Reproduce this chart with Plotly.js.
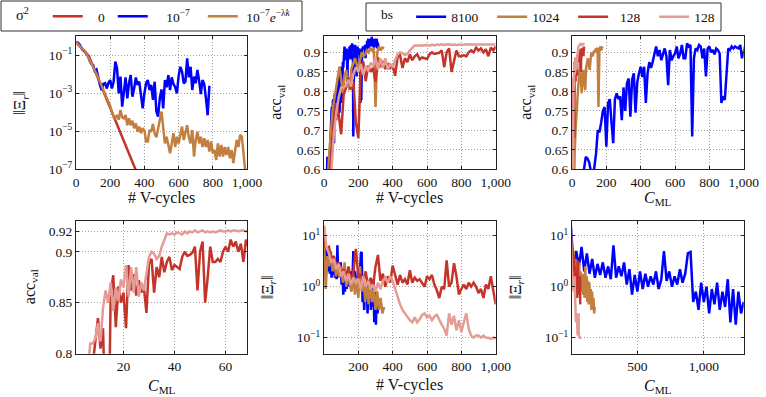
<!DOCTYPE html>
<html>
<head>
<meta charset="utf-8">
<script src="https://cdn.plot.ly/plotly-3.0.1.min.js"></script>
<style>html,body{margin:0;padding:0;background:#fff}</style>
</head>
<body>
<div id="chart" style="width:766px;height:397px"></div>
<script>
// ---- panel 1: residual norm vs V-cycles, three noise levels ----
// red sampled every 25 V-cycles, blue/brown every 10
const sigmaZeroErr = [0.5, 0.29, 0.18, 0.092, 0.027, 0.0076, 0.0021, 5.9e-4, 1.7e-4, 4.8e-5, 1.3e-5, 3.8e-6, 1.1e-6, 3.2e-7, 8.9e-8];
const sigmaConstErr = [
  0.5, 0.47, 0.38, 0.26, 0.19, 0.17, 0.13, 0.092, 0.052, 0.035,
  0.03, 0.015, 0.018, 0.0055, 0.0028, 0.0015, 0.0031, 0.0034, 0.0018, 0.0036,
  0.005, 0.0018, 0.0041, 0.047, 0.021, 0.001, 0.0076, 0.0002, 0.0018, 0.0069,
  0.00055, 0.0034, 0.0091, 0.00066, 0.0018, 0.0069, 0.0028, 0.0041, 0.00081, 0.00016,
  0.001, 0.0034, 0.005, 0.0015, 0.0028, 0.00045, 0.0041, 0.00011, 0.00006, 0.00055,
  0.0016, 0.00016, 0.005, 0.0021, 0.0091, 0.0015, 0.0069, 0.0031, 0.0021, 0.001,
  0.0081, 0.025, 0.014, 0.0034, 0.0041, 0.07, 0.0069, 0.025, 0.0015, 0.0076,
  0.0034, 0.017, 0.0047, 0.00092, 0.005, 0.0031, 0.00055, 0.00007, 0.0025];
const sigmaDecayErr = [
  0.52, 0.43, 0.34, 0.26, 0.21, 0.18, 0.13, 0.092, 0.057, 0.038,
  0.026, 0.016, 0.0104, 0.0065, 0.0041, 0.0026, 0.0016, 0.001, 0.00062, 0.00036,
  2.2e-4, 1.05e-4, 5.9e-5, 5.0e-5, 7.2e-5, 4.0e-5, 1.32e-4, 5.5e-5, 4.8e-5, 7.2e-5,
  2.1e-5, 4.8e-5, 2.1e-5, 3.6e-5, 1.45e-5, 2.6e-5, 9.5e-6, 1.78e-5, 7.9e-6, 1.45e-5,
  1.1e-5, 2.9e-6, 2.9e-6, 1.17e-5, 9.5e-6, 2.45e-5, 7.9e-6, 4.8e-6, 1.17e-5, 4.0e-5,
  1.1e-4, 9.5e-6, 2.3e-6, 5.2e-6, 1.5e-6, 7.0e-7, 2.3e-6, 7.9e-6, 1.5e-6, 5.2e-6,
  2.3e-6, 7.9e-6, 1.78e-5, 3.5e-6, 9.5e-6, 2.1e-5, 4.8e-6, 2.3e-6, 1.17e-5, 4.7e-7,
  3.5e-6, 9.5e-6, 2.3e-6, 5.2e-6, 1.5e-6, 4.3e-6, 1.5e-6, 3.5e-6, 8.5e-7, 2.9e-6,
  7.0e-7, 1.05e-6, 3.1e-7, 2.3e-6, 4.7e-7, 1.9e-6, 4.7e-7, 1.5e-6, 5.6e-7, 1.5e-6,
  3.8e-7, 1.05e-6, 2.1e-7, 8.5e-7, 3.5e-6, 1.5e-6, 6.5e-6, 5.2e-6, 3.1e-7, 7.6e-8];

// ---- batch size runs ----
// bs 8100: accuracy every 10 C_ML, residual every 20 C_ML
const cost8100 = 4.1; // C_ML per V-cycle
const acc8100 = [
  0.3, 0.35, 0.4, 0.45, 0.5, 0.54, 0.57, 0.6, 0.632, 0.628,
  0.618, 0.595, 0.58, 0.605, 0.64, 0.70, 0.695, 0.72, 0.75, 0.76,
  0.658, 0.77, 0.78, 0.72, 0.667, 0.78, 0.795, 0.78, 0.787, 0.726,
  0.81, 0.75, 0.82, 0.833, 0.735, 0.83, 0.846, 0.745, 0.823, 0.846,
  0.863, 0.837, 0.863, 0.77, 0.846, 0.875, 0.86, 0.876, 0.897, 0.915,
  0.89, 0.906, 0.88, 0.897, 0.91, 0.89, 0.816, 0.906, 0.88, 0.89,
  0.897, 0.915, 0.885, 0.897, 0.919, 0.885, 0.885, 0.923, 0.915, 0.919,
  0.684, 0.885, 0.91, 0.906, 0.919, 0.915, 0.885, 0.91, 0.838, 0.91,
  0.915, 0.9, 0.906, 0.895, 0.91, 0.906, 0.897, 0.77, 0.787, 0.778,
  0.86, 0.91, 0.906, 0.915, 0.91, 0.915, 0.912, 0.91, 0.919, 0.885,
  0.9,
  0.92, 0.905, 0.93, 0.915, 0.925, 0.935, 0.91, 0.93, 0.92, 0.935,
  0.915, 0.93, 0.92, 0.94, 0.915, 0.93, 0.925, 0.935, 0.91, 0.93,
  0.92, 0.935, 0.915, 0.93, 0.92, 0.935, 0.91, 0.925, 0.92, 0.915];
const err8100 = [
  15, 2.5, 5, 2.5, 6, 2, 4.5, 1.8, 3.5, 1.5,
  2.8, 1.7, 3, 1.5, 2.5, 1.4, 6.5, 1.5, 2.5, 1.6,
  3, 1.1, 2.2, 0.7, 1.7, 0.8, 2, 0.9, 1.8, 1.0,
  1.6, 1.1, 2, 0.9, 1.4, 5, 1.3, 2, 1.0, 1.6,
  1.1, 2.2, 1.2, 1.8, 4.5, 4.8, 0.5, 0.8, 0.35, 1.2,
  0.5, 1.0, 0.3, 0.9, 0.45, 1.2, 0.35, 0.8, 0.4, 1.4,
  0.2, 0.9, 0.18, 0.8, 0.3, 0.5];

// bs 1024: one sample every 10 V-cycles
const cost1024 = 0.514;
const acc1024 = [
  0.3, 0.45, 0.56, 0.64, 0.7, 0.75, 0.78, 0.81, 0.84, 0.863,
  0.83, 0.795, 0.84, 0.855, 0.82, 0.803, 0.86, 0.87, 0.885, 0.87,
  0.855, 0.88, 0.9, 0.89, 0.895, 0.905, 0.9, 0.91, 0.905, 0.912,
  0.76, 0.9, 0.915, 0.905, 0.912, 0.91];
const err1024 = [
  8, 0.9, 4, 2.5, 5, 2, 3.5, 1.6, 3, 1.5,
  2.5, 1.2, 3, 1.0, 2, 1.1, 0.8, 1.8, 0.7, 1.5,
  0.6, 2.5, 0.8, 1.6, 0.5, 1.3, 0.45, 1.2, 0.5, 0.9,
  0.35, 0.8, 0.35, 0.6, 0.3, 0.4];

// bs 128 (two runs): one sample per unit of C_ML
const cost128 = 0.07;
const accA128 = [
  0.3, 0.45, 0.56, 0.63, 0.72, 0.77, 0.74, 0.69, 0.79, 0.81,
  0.835, 0.805, 0.825, 0.72, 0.68, 0.86, 0.877, 0.826, 0.866, 0.85,
  0.86, 0.825, 0.887, 0.862, 0.878, 0.857, 0.872, 0.86, 0.865, 0.84,
  0.888, 0.893, 0.86, 0.885, 0.875, 0.895, 0.88, 0.89, 0.895, 0.882,
  0.887, 0.885, 0.883, 0.895, 0.9, 0.896, 0.897, 0.899, 0.905, 0.862,
  0.9, 0.91, 0.85, 0.875, 0.905, 0.89, 0.89, 0.893, 0.89, 0.9,
  0.905, 0.9, 0.912, 0.905, 0.91, 0.9, 0.908, 0.89, 0.912, 0.905,
  0.915];
const accB128 = [
  0.3, 0.4, 0.5, 0.6, 0.69, 0.745, 0.785, 0.81, 0.81, 0.815,
  0.83, 0.812, 0.845, 0.862, 0.85, 0.87, 0.842, 0.865, 0.852, 0.873,
  0.865, 0.887, 0.856, 0.885, 0.86, 0.885, 0.856, 0.87, 0.862, 0.88,
  0.895, 0.9, 0.898, 0.893, 0.896, 0.905, 0.912, 0.918, 0.917, 0.918,
  0.917, 0.919, 0.918, 0.917, 0.92, 0.918, 0.92, 0.919, 0.921, 0.919,
  0.92, 0.921, 0.919, 0.92, 0.919, 0.92, 0.919, 0.92, 0.921, 0.92,
  0.92, 0.921, 0.92, 0.921, 0.921, 0.92, 0.921, 0.921, 0.92, 0.921,
  0.92];
const errA128 = [
  9, 5.5, 6, 3.5, 4, 2.5, 3, 1.8, 2.2, 1.5,
  2.5, 1.2, 2, 5.5, 1.5, 1.8, 1.2, 2, 1, 1.5,
  1, 2.5, 4.2, 1.3, 1.8, 1, 1.6, 1.2, 2.6, 1.6,
  1.1, 1.7, 1.2, 1.4, 1.1, 2.1, 1.2, 1.5, 1.3, 1.4,
  1.2, 1.0, 1.6, 1.4, 1.7, 1.1, 0.85, 0.6, 1.0, 0.9,
  3.3, 1.0, 1.2, 2.9, 1.6, 0.7, 0.9, 1.1, 0.9, 1.2,
  1.0, 1.2, 1.0, 0.75, 0.9, 0.6, 1.1, 0.9, 1.6, 0.8,
  0.45];
const errB128 = [
  16, 6, 4.5, 3, 3.5, 2.2, 2.8, 1.6, 2.0, 1.3,
  1.8, 1.1, 1.5, 1.2, 1.4, 0.9, 1.6, 1.0, 1.3, 0.9,
  1.1, 0.8, 1.2, 0.9, 1.3, 1.5, 1.2, 1.6, 1.3, 0.9,
  0.6, 0.45, 0.35, 0.3, 0.25, 0.22, 0.2, 0.25, 0.2, 0.23,
  0.28, 0.3, 0.25, 0.27, 0.22, 0.26, 0.28, 0.22, 0.18, 0.15,
  0.11, 0.3, 0.18, 0.27, 0.14, 0.22, 0.13, 0.2, 0.3, 0.15,
  0.11, 0.1, 0.11, 0.11, 0.1, 0.11, 0.1, 0.1, 0.095, 0.1,
  0.095];

const RED = '#c4342a', BLUE = '#0000ff', BROWN = '#c27f40', PINK = '#e49c94';
const FONT = '"Liberation Serif", "DejaVu Serif", serif';
const NB = '\u00a0';
const pad = (n) => NB.repeat(n);

const grid = (arr, step) => arr.map((_, i) => i * step);

const cml8100 = grid(acc8100, 10), cyc8100 = cml8100.map(c => c / cost8100);
const cmlE8100 = grid(err8100, 20), cycE8100 = cmlE8100.map(c => c / cost8100);
const cyc1024 = grid(acc1024, 10), cml1024 = cyc1024.map(v => v * cost1024);
const cml128 = grid(accA128, 1), cyc128 = cml128.map(c => c / cost128);

function line(x, y, color, n, extra) {
  return Object.assign({
    x, y, type: 'scatter', mode: 'lines',
    xaxis: 'x' + n, yaxis: 'y' + n,
    line: {color, width: 2.5},
    showlegend: false, hoverinfo: 'skip'
  }, extra || {});
}

const data = [
  line(grid(sigmaZeroErr, 25), sigmaZeroErr, RED, '', {name: pad(3) + '0', showlegend: true, legendwidth: 20}),
  line(grid(sigmaConstErr, 10), sigmaConstErr, BLUE, '', {name: pad(4) + '10<sup>−7</sup>', showlegend: true, legendwidth: 45}),
  line(grid(sigmaDecayErr, 10), sigmaDecayErr, BROWN, '', {name: pad(1) + '10<sup>−7</sup><i>e</i><sup>−λ<i>k</i></sup>', showlegend: true}),

  line(cyc8100, acc8100, BLUE, 2, {name: '8100', showlegend: true, legend: 'legend2'}),
  line(cyc1024, acc1024, BROWN, 2, {name: '1024', showlegend: true, legend: 'legend2'}),
  line(cyc128, accA128, RED, 2, {name: pad(2) + '128', showlegend: true, legend: 'legend2'}),
  line(cyc128, accB128, PINK, 2, {name: '128', showlegend: true, legend: 'legend2'}),

  line(cml8100, acc8100, BLUE, 3),
  line(cml1024, acc1024, BROWN, 3),
  line(cml128, accA128, RED, 3),
  line(cml128, accB128, PINK, 3),

  line(cml128, accA128, RED, 4),
  line(cml128, accB128, PINK, 4),

  line(cycE8100, err8100, BLUE, 5),
  line(cyc1024, err1024, BROWN, 5),
  line(cyc128, errA128, RED, 5),
  line(cyc128, errB128, PINK, 5),

  line(cmlE8100, err8100, BLUE, 6),
  line(cml1024, err1024, BROWN, 6),
  line(cml128, errA128, RED, 6),
  line(cml128, errB128, PINK, 6),
];

const W = 766, H = 397;
const px = (x) => x / W, py = (y) => 1 - y / H;
const colPx = [[76, 247], [324, 495.7], [572, 743.7]];
const rowPx = [[36, 169.3], [220.7, 353.7]];
const colX = colPx.map(([a, b]) => [px(a), px(b)]);
const rowY = rowPx.map(([t, b]) => [py(b), py(t)]);

const tickFont = {family: FONT, size: 13.5, color: '#111'};
const titleFont = {family: FONT, size: 16, color: '#111'};
const base = {
  showline: true, mirror: 'ticks', linecolor: '#222', linewidth: 1,
  ticks: 'inside', ticklen: 3, tickcolor: '#222',
  showgrid: true, gridcolor: '#a0a0a0', griddash: '1px,2px', gridwidth: 1,
  zeroline: false, tickfont: tickFont, fixedrange: true
};
const ax = (o) => Object.assign({}, base, o);
const sup = (e) => '10<sup>' + e + '</sup>';
const cyclesTicks = {tickvals: [0, 200, 400, 600, 800, 1000], ticktext: ['0', '200', '400', '600', '800', '1,000']};
const accTicks = {tickvals: [0.6, 0.65, 0.7, 0.75, 0.8, 0.85, 0.9], ticktext: ['0.6', '0.65', '0.7', '0.75', '0.8', '0.85', '0.9']};
const errTicks = {type: 'log', range: [-1.314, 1.294], tickvals: [0.1, 1, 10], ticktext: [sup('−1'), sup('0'), sup('1')]};
const cmlTitle = '<i>C</i><sub>ML</sub>';
const errTitle = '‖Ξ<sub><i>r</i></sub>‖';
const accTitle = 'acc<sub>val</sub>';

// axis titles placed as annotations (pixel positions of the reference)
const xTitle = (text, col, y) => ({text, xref: 'paper', yref: 'paper', x: px((colPx[col][0] + colPx[col][1]) / 2), y: py(y),
  xanchor: 'center', yanchor: 'middle', showarrow: false, font: titleFont});
const yTitle = (text, x, row) => ({text, xref: 'paper', yref: 'paper', x: px(x), y: py((rowPx[row][0] + rowPx[row][1]) / 2),
  xanchor: 'center', yanchor: 'middle', textangle: -90, showarrow: false, font: titleFont});

const legendBase = {
  orientation: 'h', xanchor: 'left', yanchor: 'middle',
  bgcolor: 'rgba(0,0,0,0)', borderwidth: 0,
  font: {family: FONT, size: 13.5, color: '#111'}, itemwidth: 30
};
const box = (x0, y0, x1, y1) => ({type: 'rect', xref: 'paper', yref: 'paper',
  x0: px(x0), x1: px(x1), y0: py(y1), y1: py(y0), line: {color: '#333', width: 1}, fillcolor: 'rgba(0,0,0,0)'});

const layout = {
  width: W, height: H,
  margin: {l: 0, r: 0, t: 0, b: 0},
  paper_bgcolor: '#fff', plot_bgcolor: '#fff',
  legend: Object.assign({}, legendBase, {x: px(14), y: py(16.5), title: {text: 'σ<sup>2</sup>' + pad(3), side: 'left', font: {family: FONT, size: 14.5, color: '#111'}}}),
  legend2: Object.assign({}, legendBase, {x: px(379), y: py(17), title: {text: 'bs' + pad(3), side: 'left', font: legendBase.font}, entrywidth: 36}),
  shapes: [box(1, 1, 302, 31), box(366, 3, 721, 31)],
  annotations: [
    xTitle('# V-cycles', 0, 198), xTitle('# V-cycles', 1, 198), xTitle(cmlTitle, 2, 198),
    xTitle(cmlTitle, 0, 386), xTitle('# V-cycles', 1, 385), xTitle(cmlTitle, 2, 386),
    yTitle(errTitle, 21, 0), yTitle(accTitle, 277, 0), yTitle(accTitle, 527, 0),
    yTitle(accTitle, 30, 1), yTitle(errTitle, 268, 1), yTitle(errTitle, 516, 1),
  ],

  xaxis: ax(Object.assign({domain: colX[0], anchor: 'y', range: [0, 1000]}, cyclesTicks)),
  yaxis: ax({domain: rowY[0], anchor: 'x', type: 'log', range: [-7, 0.02],
    tickvals: [1e-7, 1e-5, 1e-3, 1e-1], ticktext: [sup('−7'), sup('−5'), sup('−3'), sup('−1')]}),

  xaxis2: ax(Object.assign({domain: colX[1], anchor: 'y2', range: [0, 1000]}, cyclesTicks)),
  yaxis2: ax(Object.assign({domain: rowY[0], anchor: 'x2', range: [0.6, 0.942]}, accTicks)),

  xaxis3: ax(Object.assign({domain: colX[2], anchor: 'y3', range: [0, 1000]}, cyclesTicks)),
  yaxis3: ax(Object.assign({domain: rowY[0], anchor: 'x3', range: [0.6, 0.942]}, accTicks)),

  xaxis4: ax({domain: colX[0], anchor: 'y4', range: [1.4, 68.4], tickvals: [20, 40, 60]}),
  yaxis4: ax({domain: rowY[1], anchor: 'x4', range: [0.8, 0.9305],
    tickvals: [0.8, 0.85, 0.9, 0.92], ticktext: ['0.8', '0.85', '0.9', '0.92']}),

  xaxis5: ax({domain: colX[1], anchor: 'y5', range: [0, 1000],
    tickvals: [200, 400, 600, 800, 1000], ticktext: ['200', '400', '600', '800', '1,000']}),
  yaxis5: ax(Object.assign({domain: rowY[1], anchor: 'x5'}, errTicks)),

  xaxis6: ax({domain: colX[2], anchor: 'y6', range: [8, 1300],
    tickvals: [500, 1000], ticktext: ['500', '1,000']}),
  yaxis6: ax(Object.assign({domain: rowY[1], anchor: 'x6'}, errTicks)),
};

Plotly.newPlot('chart', data, layout, {displayModeBar: false, staticPlot: true});
</script>
</body>
</html>
